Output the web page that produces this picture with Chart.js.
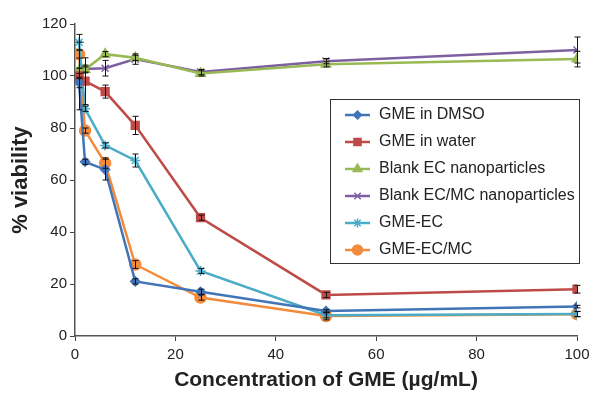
<!DOCTYPE html>
<html>
<head>
<meta charset="utf-8">
<script src="https://cdn.jsdelivr.net/npm/chart.js@4"></script>
<style>
  html, body { margin: 0; padding: 0; background: #fff; }
  #wrap { width: 592px; height: 393px; position: relative; }
</style>
</head>
<body>
<div id="wrap"><canvas id="viabilityChart"></canvas></div>
<script>
// concentration of GME (µg/mL)
const conc = [0.8, 2, 6, 12, 25, 50, 100];

// % viability per formulation, with error (±)
const gmeDmso = [97.5, 67, 64, 21, 17, 9.6, 11.3];
const gmeDmsoErr = [2, 1, 4, 1, 1, 0.5, 0.5];
const gmeWater = [100, 98, 94, 81, 45.5, 15.8, 18];
const gmeWaterErr = [13, 9, 2.5, 3.5, 1, 1, 1.5];
const blankEC = [102, 102.5, 108.4, 107, 101, 104.5, 106.5];
const blankECErr = [1, 1, 1, 1, 1, 1, 3];
const blankECMC = [101, 102.7, 103, 106.5, 101.5, 105.7, 110];
const blankECMCErr = [2, 1.5, 3, 2, 1, 1, 5];
const gmeEC = [113, 87.4, 73.3, 67.5, 25, 8, 8.5];
const gmeECErr = [3, 1, 1, 2.5, 1, 1, 1];
const gmeECMC = [108.4, 79, 66.5, 27.5, 14.8, 7.7, 8.4];
const gmeECMCErr = [1.5, 1, 2, 1.5, 1, 1.5, 1];

const xTicks = [0, 20, 40, 60, 80, 100];
const yTicks = [0, 20, 40, 60, 80, 100, 120];

const series = [
    { label: 'GME in DMSO', values: gmeDmso, err: gmeDmsoErr, color: '#4174b8', style: 'rectRot', r: 4.5 },
    { label: 'GME in water', values: gmeWater, err: gmeWaterErr, color: '#be4b48', style: 'rect', r: 5.5 },
    { label: 'Blank EC nanoparticles', values: blankEC, err: blankECErr, color: '#98b954', style: 'triangle', r: 5.5 },
    { label: 'Blank EC/MC nanoparticles', values: blankECMC, err: blankECMCErr, color: '#7d60a0', style: 'crossRot', r: 5 },
    { label: 'GME-EC', values: gmeEC, err: gmeECErr, color: '#4bacc6', style: 'star', r: 5 },
    { label: 'GME-EC/MC', values: gmeECMC, err: gmeECMCErr, color: '#f38b3c', style: 'circle', r: 5.5 }
];

const datasets = series.map(s => ({
    label: s.label,
    data: conc.map((c, i) => ({ x: c, y: s.values[i] })),
    errors: s.err,
    borderColor: s.color,
    backgroundColor: s.color,
    borderWidth: 2.5,
    pointStyle: s.style,
    pointRadius: s.r,
    pointBorderWidth: 1.5,
    showLine: true,
    tension: 0
}));

// vertical error bars with small caps
const errorBars = {
    id: 'errorBars',
    afterDatasetsDraw(chart) {
        const ctx = chart.ctx;
        const xs = chart.scales.x, ys = chart.scales.y;
        ctx.save();
        ctx.strokeStyle = '#111';
        ctx.lineWidth = 1;
        chart.data.datasets.forEach(ds => {
            ds.data.forEach((p, i) => {
                const e = ds.errors[i];
                const px = Math.round(xs.getPixelForValue(p.x)) + 0.5;
                const top = ys.getPixelForValue(p.y + e);
                const bot = ys.getPixelForValue(p.y - e);
                ctx.beginPath();
                ctx.moveTo(px, top); ctx.lineTo(px, bot);
                ctx.moveTo(px - 3, top); ctx.lineTo(px + 3, top);
                ctx.moveTo(px - 3, bot); ctx.lineTo(px + 3, bot);
                ctx.stroke();
            });
        });
        ctx.restore();
    }
};

// boxed legend inside the plot
const boxLegend = {
    id: 'boxLegend',
    afterDraw(chart) {
        const ctx = chart.ctx;
        const left = 330, top = 99, w = 249, h = 164;
        ctx.save();
        ctx.fillStyle = '#fff';
        ctx.fillRect(left, top, w, h);
        ctx.strokeStyle = '#333';
        ctx.lineWidth = 1;
        ctx.strokeRect(left + 0.5, top + 0.5, w, h);
        ctx.font = '16px "Liberation Sans", Arial, sans-serif';
        ctx.textBaseline = 'middle';
        chart.data.datasets.forEach((ds, i) => {
            const y = top + 16 + i * 27;
            ctx.strokeStyle = ds.borderColor;
            ctx.lineWidth = 2.5;
            ctx.beginPath();
            ctx.moveTo(left + 15, y); ctx.lineTo(left + 40, y);
            ctx.stroke();
            ctx.fillStyle = ds.backgroundColor;
            ctx.lineWidth = 1.5;
            Chart.helpers.drawPoint(ctx, { pointStyle: ds.pointStyle, radius: ds.pointRadius - 0.5, borderWidth: 1.5 }, left + 27.5, y);
            ctx.fillStyle = '#222';
            ctx.fillText(ds.label, left + 49, y);
        });
        ctx.restore();
    }
};

new Chart(document.getElementById('viabilityChart'), {
    type: 'line',
    data: { datasets: datasets },
    options: {
        responsive: true,
        maintainAspectRatio: false,
        animation: false,
        layout: { padding: { left: 8, right: 15, top: 24, bottom: 0 } },
        plugins: {
            legend: { display: false },
            tooltip: { enabled: false }
        },
        scales: {
            x: {
                type: 'linear',
                min: 0,
                max: 100,
                afterBuildTicks: s => { s.ticks = xTicks.map(v => ({ value: v })); },
                afterFit: s => { s.height = 57; s.paddingRight = 0; s.paddingLeft = 0; },
                grid: { drawOnChartArea: false, drawTicks: true, tickLength: 5, color: '#444' },
                border: { color: '#555', width: 1.5 },
                ticks: { color: '#222', font: { family: 'Liberation Sans', size: 15 }, padding: 5 },
                title: {
                    display: true,
                    text: 'Concentration of GME (µg/mL)',
                    color: '#222',
                    font: { family: 'Liberation Sans', size: 21, weight: 'bold' },
                    padding: { top: 4, bottom: 0 }
                }
            },
            y: {
                min: 0,
                max: 120,
                afterBuildTicks: s => { s.ticks = yTicks.map(v => ({ value: v })); },
                afterFit: s => { s.width = 67; },
                grid: { drawOnChartArea: false, drawTicks: true, tickLength: 5, color: '#444' },
                border: { color: '#555', width: 1.5 },
                ticks: { color: '#222', font: { family: 'Liberation Sans', size: 15 }, padding: 3 },
                title: {
                    display: true,
                    text: '% viability',
                    color: '#222',
                    font: { family: 'Liberation Sans', size: 22, weight: 'bold' },
                    padding: { top: 0, bottom: 4 }
                }
            }
        }
    },
    plugins: [errorBars, boxLegend]
});
</script>
</body>
</html>
